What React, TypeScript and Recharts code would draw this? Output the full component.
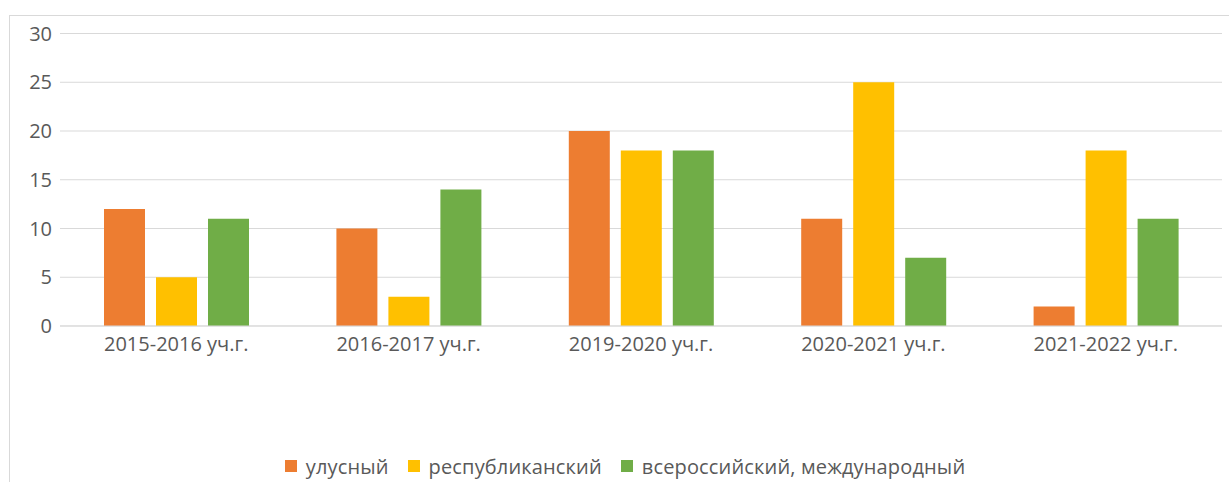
import { Bar, BarChart, CartesianGrid, Legend, XAxis, YAxis } from 'recharts';

const years = ['2015-2016 уч.г.', '2016-2017 уч.г.', '2019-2020 уч.г.', '2020-2021 уч.г.', '2021-2022 уч.г.'];
const ulusValues = [12, 10, 20, 11, 2];
const republicValues = [5, 3, 18, 25, 18];
const russiaValues = [11, 14, 18, 7, 11];
const yTicks = [0, 5, 10, 15, 20, 25, 30];

const series = [
  { key: 'ulus', name: 'улусный', color: '#ED7D31' },
  { key: 'republic', name: 'республиканский', color: '#FFC000' },
  { key: 'russia', name: 'всероссийский, международный', color: '#70AD47' },
];

const data = years.map((year, i) => ({
  year,
  ulus: ulusValues[i],
  republic: republicValues[i],
  russia: russiaValues[i],
}));

const FONT = '"Open Sans", "Noto Sans", sans-serif';
const TEXT = '#595959';
const GRID = '#d9d9d9';

const renderLegend = () => (
  <div style={{ display: 'flex', justifyContent: 'center', alignItems: 'center', height: 30 }}>
    {series.map((s, i) => (
      <span
        key={s.key}
        style={{ display: 'flex', alignItems: 'center', marginRight: i < series.length - 1 ? 19 : 0 }}
      >
        <span style={{ width: 12, height: 12, background: s.color, display: 'inline-block', marginRight: 9 }} />
        <span style={{ fontFamily: FONT, fontSize: 20, color: TEXT, letterSpacing: 0.15 }}>{s.name}</span>
      </span>
    ))}
  </div>
);

export default function App() {
  return (
    <div style={{ position: 'absolute', left: 0, top: 0, width: 1229, height: 482, overflow: 'hidden', background: '#fff' }}>
      <div
        style={{
          position: 'absolute',
          left: 9,
          top: 15,
          width: 1400,
          height: 700,
          border: `1px solid ${GRID}`,
        }}
      />
      <div style={{ position: 'absolute', left: 0, top: 0 }}>
        <BarChart
          width={1229}
          height={482}
          data={data}
          margin={{ top: 33.5, right: 7, left: 0, bottom: 86 }}
          barSize={41}
          barGap={11}
        >
          <CartesianGrid vertical={false} stroke={GRID} strokeWidth={1} />
          <XAxis
            dataKey="year"
            height={40}
            tickLine={false}
            tickSize={0}
            tickMargin={11}
            axisLine={{ stroke: GRID }}
            tick={{ fill: TEXT, fontSize: 20, fontFamily: FONT }}
            interval={0}
          />
          <YAxis
            width={60}
            domain={[0, 30]}
            ticks={yTicks}
            axisLine={false}
            tickLine={false}
            tickSize={0}
            tickMargin={8}
            tick={{ fill: TEXT, fontSize: 20, fontFamily: FONT }}
          />
          <Legend
            verticalAlign="bottom"
            content={renderLegend}
            wrapperStyle={{ left: 0, width: 1250, height: 30, bottom: 1 }}
          />
          {series.map((s) => (
            <Bar key={s.key} dataKey={s.key} name={s.name} fill={s.color} isAnimationActive={false} />
          ))}
        </BarChart>
      </div>
    </div>
  );
}
